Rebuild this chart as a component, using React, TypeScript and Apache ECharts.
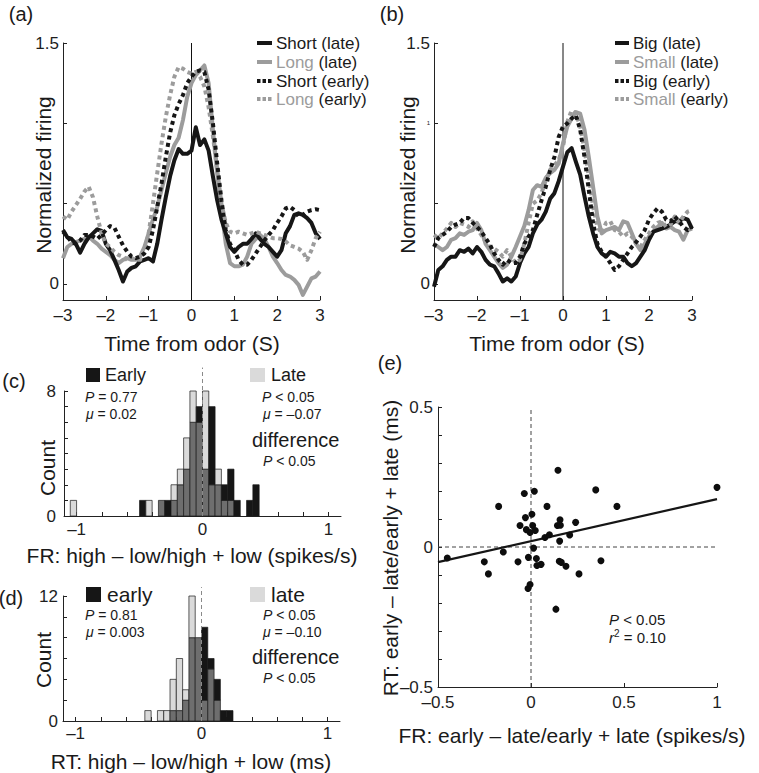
import React, { useEffect, useRef } from 'react';
import * as echarts from 'echarts';

const FONT = '"Liberation Sans", Arial, Helvetica, sans-serif';
const BLACK = '#161616';
const GRAY = '#9c9c9c';
const LIGHT = '#dadada';
const DARK = '#6e6e6e';
const AXIS = '#222222';

// ---------- panels (a) and (b): time axis ----------
const timeS = [
  -3, -2.9, -2.8, -2.7, -2.6, -2.5, -2.4, -2.3, -2.2, -2.1,
  -2, -1.9, -1.8, -1.7, -1.6, -1.5, -1.4, -1.3, -1.2, -1.1,
  -1, -0.9, -0.8, -0.7, -0.6, -0.5, -0.4, -0.3, -0.2, -0.1,
  0, 0.1, 0.2, 0.3, 0.4, 0.5, 0.6, 0.7, 0.8, 0.9,
  1, 1.1, 1.2, 1.3, 1.4, 1.5, 1.6, 1.7, 1.8, 1.9,
  2, 2.1, 2.2, 2.3, 2.4, 2.5, 2.6, 2.7, 2.8, 2.9,
  3,
];

const aShortLate = [
  0.336, 0.29, 0.28, 0.25, 0.195, 0.25, 0.29, 0.315, 0.34, 0.33,
  0.25, 0.21, 0.15, 0.087, 0.015, 0.077, 0.1, 0.11, 0.14, 0.15,
  0.16, 0.14, 0.25, 0.4, 0.54, 0.67, 0.77, 0.84, 0.81, 0.81,
  0.83, 0.975, 0.865, 0.9, 0.83, 0.67, 0.52, 0.4, 0.315, 0.23,
  0.2, 0.23, 0.25, 0.25, 0.28, 0.315, 0.28, 0.25, 0.23, 0.2,
  0.17, 0.21, 0.315, 0.36, 0.43, 0.44, 0.43, 0.41, 0.38, 0.315,
  0.28,
];
const aLongLate = [
  0.16, 0.23, 0.25, 0.26, 0.27, 0.28, 0.295, 0.27, 0.25, 0.22,
  0.2, 0.18, 0.15, 0.13, 0.15, 0.16, 0.15, 0.15, 0.17, 0.23,
  0.315, 0.4, 0.48, 0.585, 0.69, 0.79, 0.865, 0.91, 1.02, 1.165,
  1.25, 1.3, 1.33, 1.36, 1.25, 0.96, 0.69, 0.46, 0.25, 0.13,
  0.11, 0.11, 0.12, 0.17, 0.25, 0.28, 0.305, 0.28, 0.23, 0.17,
  0.13, 0.087, 0.056, 0.046, 0.025, -0.006, -0.068, -0.017, 0.035, 0.046,
  0.077,
];
const aShortEarly = [
  0.325, 0.295, 0.26, 0.25, 0.27, 0.305, 0.305, 0.295, 0.28, 0.305,
  0.335, 0.36, 0.35, 0.295, 0.24, 0.2, 0.17, 0.16, 0.17, 0.19,
  0.23, 0.335, 0.48, 0.625, 0.79, 0.94, 1.05, 1.12, 1.175, 1.25,
  1.29, 1.32, 1.33, 1.32, 1.21, 1.0, 0.75, 0.52, 0.335, 0.25,
  0.21, 0.15, 0.12, 0.12, 0.15, 0.19, 0.23, 0.27, 0.305, 0.335,
  0.38, 0.42, 0.47, 0.48, 0.46, 0.42, 0.43, 0.45, 0.46, 0.465,
  0.46,
];
const aLongEarly = [
  0.42, 0.4, 0.45, 0.49, 0.53, 0.575, 0.605, 0.54, 0.42, 0.315,
  0.25, 0.23, 0.2, 0.18, 0.17, 0.15, 0.16, 0.15, 0.15, 0.21,
  0.315, 0.5, 0.69, 0.875, 1.04, 1.175, 1.29, 1.35, 1.34, 1.32,
  1.31, 1.32, 1.29, 1.23, 1.1, 0.92, 0.71, 0.5, 0.38, 0.325,
  0.315, 0.325, 0.315, 0.305, 0.315, 0.325, 0.315, 0.305, 0.295, 0.285,
  0.285, 0.28, 0.265, 0.24, 0.23, 0.22, 0.2, 0.15, 0.21, 0.285,
  0.325,
];

const bBigLate = [
  -0.017, 0.087, 0.11, 0.15, 0.17, 0.17, 0.21, 0.2, 0.22, 0.19,
  0.23, 0.2, 0.15, 0.12, 0.11, 0.066, 0.015, 0.035, 0.015, 0.046,
  0.13, 0.19, 0.23, 0.315, 0.37, 0.4, 0.45, 0.53, 0.565, 0.64,
  0.73, 0.82, 0.845, 0.76, 0.68, 0.545, 0.42, 0.315, 0.23, 0.19,
  0.17, 0.2, 0.19, 0.17, 0.17, 0.13, 0.11, 0.13, 0.17, 0.21,
  0.275, 0.325, 0.335, 0.345, 0.355, 0.37, 0.39, 0.39, 0.41, 0.4,
  0.345,
];
const bSmallLate = [
  0.25, 0.23, 0.21, 0.23, 0.275, 0.285, 0.315, 0.305, 0.325, 0.335,
  0.38, 0.335, 0.25, 0.21, 0.17, 0.13, 0.1, 0.12, 0.17, 0.23,
  0.295, 0.36, 0.46, 0.585, 0.615, 0.605, 0.66, 0.69, 0.71, 0.75,
  0.875, 0.98, 1.03, 1.07, 1.06, 0.96, 0.79, 0.605, 0.42, 0.315,
  0.335, 0.345, 0.355, 0.335, 0.39, 0.38, 0.315, 0.25, 0.21, 0.25,
  0.295, 0.325, 0.355, 0.38, 0.345, 0.355, 0.335, 0.325, 0.275, 0.335,
  0.345,
];
const bBigEarly = [
  0.23, 0.285, 0.305, 0.325, 0.355, 0.37, 0.38, 0.41, 0.41, 0.38,
  0.355, 0.325, 0.285, 0.245, 0.19, 0.15, 0.12, 0.15, 0.13, 0.13,
  0.17, 0.25, 0.295, 0.335, 0.43, 0.52, 0.605, 0.71, 0.79, 0.915,
  0.98, 1.0, 1.03, 1.05, 0.96, 0.79, 0.585, 0.38, 0.25, 0.2,
  0.17, 0.13, 0.087, 0.11, 0.15, 0.19, 0.23, 0.26, 0.295, 0.335,
  0.4, 0.44, 0.47, 0.45, 0.4, 0.39, 0.42, 0.39, 0.355, 0.335,
  0.355,
];
const bSmallEarly = [
  0.305, 0.285, 0.315, 0.345, 0.38, 0.355, 0.38, 0.37, 0.355, 0.39,
  0.345, 0.305, 0.265, 0.23, 0.22, 0.2, 0.17, 0.21, 0.17, 0.13,
  0.15, 0.25, 0.38, 0.5, 0.52, 0.565, 0.645, 0.71, 0.74, 0.77,
  0.855, 1.01, 1.08, 1.06, 0.98, 0.835, 0.67, 0.48, 0.355, 0.315,
  0.38, 0.39, 0.335, 0.325, 0.295, 0.315, 0.295, 0.25, 0.23, 0.275,
  0.315, 0.355, 0.38, 0.39, 0.355, 0.37, 0.42, 0.38, 0.42, 0.45,
  0.46,
];

// ---------- panels (c) and (d): histograms ----------
const BIN = 0.05;
const cBinStarts = [-1.05, -0.5, -0.45, -0.35, -0.3, -0.25, -0.2, -0.15, -0.1, -0.05, 0, 0.05, 0.1, 0.15, 0.2, 0.25, 0.35, 0.4];
const cEarly = [0, 1, 0, 1, 1, 1, 2, 3, 6, 7, 3, 7, 2, 2, 3, 1, 1, 2];
const cLate = [1, 0, 1, 1, 0, 2, 3, 5, 8, 6, 8, 2, 3, 1, 1, 0, 0, 0];

const dBinStarts = [-0.45, -0.35, -0.3, -0.25, -0.2, -0.15, -0.1, -0.05, 0, 0.05, 0.1, 0.15, 0.2];
const dEarly = [0, 0, 0, 1, 1, 2, 8, 8, 9, 6, 4, 1, 1];
const dLate = [1, 1, 1, 4, 6, 3, 12, 8, 2, 5, 2, 0, 0];

// ---------- panel (e): scatter ----------
const eFR = [
  -0.45, -0.251, -0.229, -0.174, -0.149, -0.07, -0.059, -0.036, -0.03, -0.025,
  -0.014, -0.016, -0.005, -0.005, 0.005, 0.009, 0.014, 0.018, 0.023, 0.029,
  0.032, 0.054, 0.075, 0.086, 0.099, 0.134, 0.145, 0.142, 0.156, 0.158,
  0.154, 0.152, 0.163, 0.188, 0.208, 0.24, 0.258, 0.348, 0.376, 0.462,
  1.0,
];
const eRT = [
  -0.039, -0.053, -0.096, 0.145, -0.018, -0.053, 0.077, 0.191, 0.105, 0.062,
  -0.037, -0.148, -0.134, 0.052, 0.117, 0.077, -0.004, 0.199, 0.059, -0.041,
  -0.066, -0.062, 0.034, 0.145, 0.044, -0.222, 0.274, 0.077, 0.097, 0.078,
  0.021, -0.051, -0.055, -0.069, 0.043, 0.088, -0.096, 0.204, -0.049, 0.145,
  0.213,
];
const fitX = [-0.5, 1];
const fitY = [-0.054, 0.171];

// ---------- tick definitions ----------
const timeTicks = [-3, -2, -1, 0, 1, 2, 3];
const firingTicks = [0, 0.5, 1, 1.5];
const firingLabelsA = [0, 1.5];
const firingLabelsB = [0, 1, 1.5];
const histXTicks = [-1, -0.8, -0.6, -0.4, -0.2, 0, 0.2, 0.4, 0.6, 0.8, 1];
const histXLabels = [-1, 0, 1];
const cCountLabels = [0, 8];
const dCountLabels = [0, 12];
const eYLabels = [-0.5, 0, 0.5];

const fmt = (v: number) => (v < 0 ? '\u2013' + String(Math.abs(v)) : String(v));

function axis(o: any) {
  return {
    type: 'value',
    gridIndex: o.grid,
    min: o.min,
    max: o.max,
    interval: o.interval,
    axisLine: { show: true, onZero: false, lineStyle: { color: AXIS, width: 1 } },
    axisTick: {
      show: true,
      inside: true,
      length: 4,
      lineStyle: { color: AXIS, width: 1 },
      ...(o.ticks ? { customValues: o.ticks } : {}),
    },
    axisLabel: {
      show: true,
      fontSize: 17,
      fontFamily: FONT,
      color: '#1e1e1e',
      margin: o.margin,
      ...(o.labels ? { customValues: o.labels } : {}),
      formatter: o.formatter || ((v: number) => fmt(v)),
      rich: o.rich,
    },
    splitLine: { show: false },
  };
}

function histRows(starts: number[], early: number[], late: number[]) {
  const rows: number[][] = [];
  starts.forEach((s, i) => {
    const e = s + BIN;
    const a = early[i];
    const b = late[i];
    const m = Math.min(a, b);
    if (m > 0) rows.push([s, e, 0, m, 0]);
    if (a > b) rows.push([s, e, b, a, 1]);
    if (b > a) rows.push([s, e, a, b, 2]);
  });
  return rows;
}

const HIST_COLORS = [DARK, BLACK, LIGHT];

function histSeries(idx: number, rows: number[][]) {
  return {
    type: 'custom',
    coordinateSystem: 'cartesian2d',
    xAxisIndex: idx,
    yAxisIndex: idx,
    data: rows,
    encode: { x: [0, 1], y: [2, 3] },
    renderItem: (_p: any, api: any) => {
      const p0 = api.coord([api.value(0), api.value(3)]);
      const p1 = api.coord([api.value(1), api.value(2)]);
      return {
        type: 'rect',
        shape: { x: p0[0], y: p0[1], width: p1[0] - p0[0], height: p1[1] - p0[1] },
        style: { fill: HIST_COLORS[api.value(4)], stroke: '#1a1a1a', lineWidth: 0.7 },
      };
    },
  };
}

function curve(idx: number, ys: number[], color: string, dotted: boolean, z: number) {
  return {
    type: 'line',
    xAxisIndex: idx,
    yAxisIndex: idx,
    data: timeS.map((t, i) => [t, ys[i]]),
    symbol: 'none',
    z,
    lineStyle: { color, width: 4, type: dotted ? [4, 3.5] : 'solid', cap: 'butt', join: 'round' },
  };
}

function refLine(idx: number, pts: number[][], dashed: boolean, color: string) {
  return {
    type: 'line',
    xAxisIndex: idx,
    yAxisIndex: idx,
    data: pts,
    symbol: 'none',
    clip: false,
    silent: true,
    z: 1,
    lineStyle: { color, width: 1, type: dashed ? [4, 3] : 'solid' },
  };
}

function richSet(size: number, lh: number) {
  return {
    i: { fontSize: size, fontFamily: FONT, fontStyle: 'italic', fill: '#1a1a1a', lineHeight: lh },
    n: { fontSize: size, fontFamily: FONT, fill: '#1a1a1a', lineHeight: lh },
    g: { fontSize: size, fontFamily: FONT, fill: GRAY, lineHeight: lh },
    sup: { fontSize: 10, fontFamily: FONT, fill: '#1a1a1a', lineHeight: lh, verticalAlign: 'top' },
  };
}

function txt(text: string, x: number, y: number, size: number, align = 'center', extra: any = {}) {
  const lh = extra.lineHeight || size + 2;
  return {
    type: 'text',
    x,
    y,
    rotation: extra.rotation || 0,
    style: {
      text,
      fill: extra.fill || '#1a1a1a',
      fontSize: size,
      fontFamily: FONT,
      lineHeight: lh,
      align,
      verticalAlign: 'middle',
      rich: richSet(size, lh),
    },
  };
}

function legendRow(x1: number, x2: number, tx: number, y: number, color: string, dotted: boolean, label: string) {
  return [
    {
      type: 'line',
      shape: { x1, y1: y, x2, y2: y },
      style: { stroke: color, lineWidth: 4, lineDash: dotted ? [3.5, 2] : null },
    },
    txt(label, tx, y, 17, 'left'),
  ];
}

export default function App() {
  const ref = useRef<HTMLDivElement>(null);
  useEffect(() => {
    if (!ref.current) return;
    const chart = echarts.init(ref.current, null, { renderer: 'svg' });
    const rowsY = [43, 62, 81, 99];
    const option: any = {
      animation: false,
      backgroundColor: '#ffffff',
      grid: [
        { left: 63, top: 43, width: 257, height: 257 },
        { left: 434, top: 43, width: 258, height: 257 },
        { left: 64, top: 391, width: 277, height: 125 },
        { left: 63, top: 596, width: 277, height: 125 },
        { left: 438, top: 407, width: 279, height: 280 },
      ],
      xAxis: [
        axis({ grid: 0, min: -3, max: 3, interval: 1, ticks: timeTicks, margin: 7 }),
        axis({ grid: 1, min: -3, max: 3, interval: 1, ticks: timeTicks, margin: 7 }),
        axis({ grid: 2, min: -1.1, max: 1.1, ticks: histXTicks, labels: histXLabels, margin: 5 }),
        axis({ grid: 3, min: -1.1, max: 1.1, ticks: histXTicks, labels: histXLabels, margin: 4 }),
        axis({ grid: 4, min: -0.5, max: 1, interval: 0.5, margin: 7 }),
      ],
      yAxis: [
        axis({ grid: 0, min: -0.1, max: 1.5, ticks: firingTicks, labels: firingLabelsA, margin: 4 }),
        axis({
          grid: 1, min: -0.1, max: 1.5, ticks: firingTicks, labels: firingLabelsB, margin: 4,
          formatter: (v: number) => (v === 1 ? '{s|1}' : fmt(v)),
          rich: { s: { fontSize: 6, fontFamily: FONT, color: '#1e1e1e' } },
        }),
        axis({ grid: 2, min: 0, max: 8, interval: 1, labels: cCountLabels, margin: 8 }),
        axis({ grid: 3, min: 0, max: 12, interval: 2, labels: dCountLabels, margin: 5 }),
        axis({ grid: 4, min: -0.5, max: 0.5, interval: 0.1, labels: eYLabels, margin: 5 }),
      ],
      series: [
        refLine(0, [[0, -0.1], [0, 1.5]], false, '#111'),
        curve(0, aLongLate, GRAY, false, 2),
        curve(0, aShortLate, BLACK, false, 3),
        curve(0, aLongEarly, GRAY, true, 4),
        curve(0, aShortEarly, BLACK, true, 5),
        refLine(1, [[0, -0.1], [0, 1.5]], false, '#111'),
        curve(1, bSmallLate, GRAY, false, 2),
        curve(1, bBigLate, BLACK, false, 3),
        curve(1, bSmallEarly, GRAY, true, 4),
        curve(1, bBigEarly, BLACK, true, 5),
        histSeries(2, histRows(cBinStarts, cEarly, cLate)),
        { ...refLine(2, [[0, 0], [0, 9.5]], true, '#8a8a8a'), z: 5 },
        histSeries(3, histRows(dBinStarts, dEarly, dLate)),
        { ...refLine(3, [[0, 0], [0, 12.85]], true, '#8a8a8a'), z: 5 },
        refLine(4, [[0, -0.5], [0, 0.5]], true, '#444'),
        refLine(4, [[-0.5, 0], [1, 0]], true, '#444'),
        {
          type: 'line',
          xAxisIndex: 4,
          yAxisIndex: 4,
          data: fitX.map((x, i) => [x, fitY[i]]),
          symbol: 'none',
          z: 3,
          lineStyle: { color: BLACK, width: 2.2 },
        },
        {
          type: 'scatter',
          xAxisIndex: 4,
          yAxisIndex: 4,
          data: eFR.map((x, i) => [x, eRT[i]]),
          symbolSize: 7,
          z: 4,
          itemStyle: { color: '#0d0d0d', opacity: 1 },
        },
      ],
      graphic: [
        // panel letters
        txt('(a)', 21, 14, 20),
        txt('(b)', 392, 14, 20),
        txt('(c)', 14, 381, 20),
        txt('(d)', 11, 598, 20),
        txt('(e)', 390, 363, 20),
        // axis titles
        txt('Normalized firing', 43, 175, 21, 'center', { rotation: Math.PI / 2 }),
        txt('Normalized firing', 407, 175, 21, 'center', { rotation: Math.PI / 2 }),
        txt('Time from odor (S)', 192, 343, 21),
        txt('Time from odor (S)', 557, 343, 21),
        txt('Count', 47, 468, 21, 'center', { rotation: Math.PI / 2 }),
        txt('Count', 43, 660, 21, 'center', { rotation: Math.PI / 2 }),
        txt('FR: high \u2013 low/high + low (spikes/s)', 192, 555, 21),
        txt('RT: high \u2013 low/high + low (ms)', 191, 761, 21),
        txt('RT: early \u2013 late/early + late (ms)', 390, 548, 21, 'center', { rotation: Math.PI / 2 }),
        txt('FR: early \u2013 late/early + late (spikes/s)', 572, 735, 21),
        // legends (a)
        ...legendRow(257, 272, 276, rowsY[0], BLACK, false, 'Short (late)'),
        ...legendRow(257, 272, 276, rowsY[1], GRAY, false, '{g|Long}{n| (late)}'),
        ...legendRow(257, 272, 276, rowsY[2], BLACK, true, 'Short (early)'),
        ...legendRow(257, 272, 276, rowsY[3], GRAY, true, '{g|Long}{n| (early)}'),
        // legends (b)
        ...legendRow(615, 629, 633, rowsY[0], BLACK, false, 'Big (late)'),
        ...legendRow(615, 629, 633, rowsY[1], GRAY, false, '{g|Small}{n| (late)}'),
        ...legendRow(615, 629, 633, rowsY[2], BLACK, true, 'Big (early)'),
        ...legendRow(615, 629, 633, rowsY[3], GRAY, true, '{g|Small}{n| (early)}'),
        // histogram legends (c)
        { type: 'rect', shape: { x: 86, y: 368, width: 14, height: 14 }, style: { fill: BLACK } },
        txt('Early', 105, 375, 18, 'left'),
        { type: 'rect', shape: { x: 250, y: 368, width: 15, height: 14 }, style: { fill: LIGHT } },
        txt('Late', 271, 375, 18, 'left'),
        txt('{i|P}{n| = 0.77}', 85, 397, 14, 'left'),
        txt('{i|\u03bc}{n| = 0.02}', 86, 414, 14, 'left'),
        txt('{i|P}{n| < 0.05}', 262, 397, 14, 'left'),
        txt('{i|\u03bc}{n| = \u20130.07}', 263, 414, 14, 'left'),
        txt('difference', 252, 440, 20, 'left'),
        txt('{i|P}{n| < 0.05}', 263, 461, 14, 'left'),
        // histogram legends (d)
        { type: 'rect', shape: { x: 86, y: 587, width: 15, height: 15 }, style: { fill: BLACK } },
        txt('early', 107, 594, 21, 'left'),
        { type: 'rect', shape: { x: 250, y: 587, width: 15, height: 15 }, style: { fill: LIGHT } },
        txt('late', 271, 594, 21, 'left'),
        txt('{i|P}{n| = 0.81}', 85, 615, 14, 'left'),
        txt('{i|\u03bc}{n| = 0.003}', 86, 632, 14, 'left'),
        txt('{i|P}{n| < 0.05}', 263, 615, 14, 'left'),
        txt('{i|\u03bc}{n| = \u20130.10}', 263, 632, 14, 'left'),
        txt('difference', 252, 657, 20, 'left'),
        txt('{i|P}{n| < 0.05}', 263, 678, 14, 'left'),
        // stats (e)
        txt('{i|P}{n| < 0.05}\n{i|r}{sup|2}{n| = 0.10}', 609, 628, 15, 'left', { lineHeight: 18 }),
      ],
    };
    chart.setOption(option);
    return () => chart.dispose();
  }, []);
  return (
    <div
      ref={ref}
      style={{ position: 'fixed', left: 0, top: 0, width: 759, height: 773, background: '#fff' }}
    />
  );
}
